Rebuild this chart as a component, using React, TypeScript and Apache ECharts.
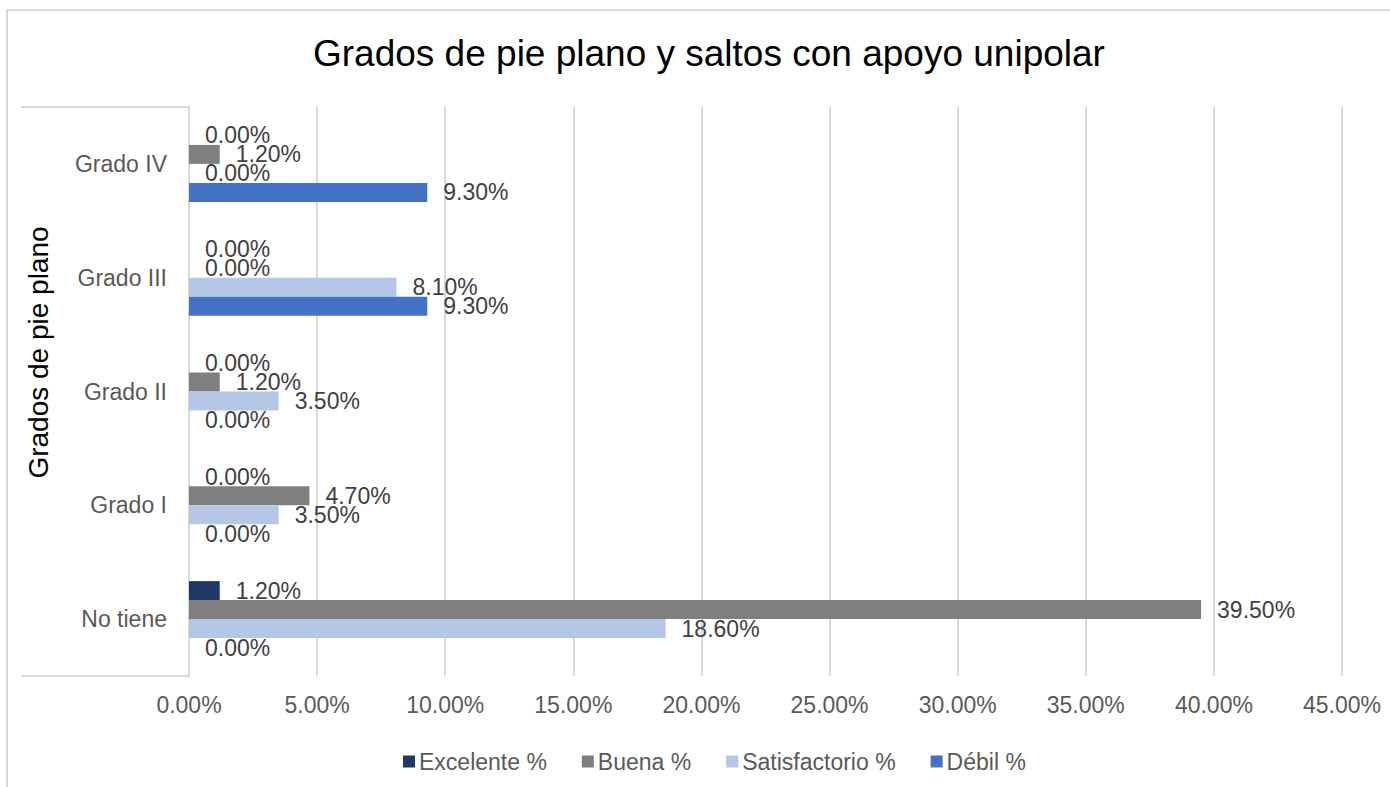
import React, { useEffect, useRef } from "react";
import * as echarts from "echarts";

const categories = ["No tiene", "Grado I", "Grado II", "Grado III", "Grado IV"];
const seriesNames = ["Excelente %", "Buena %", "Satisfactorio %", "Débil %"];
const excelente = [1.2, 0, 0, 0, 0];
const buena = [39.5, 4.7, 1.2, 0, 1.2];
const satisfactorio = [18.6, 3.5, 3.5, 8.1, 0];
const debil = [0, 0, 0, 9.3, 9.3];
const colors = ["#203864", "#7f7f7f", "#b4c7e7", "#4472c4"];
const xTicks = { min: 0, max: 45, interval: 5 };

const FONT = "'Liberation Sans', Arial, sans-serif";

export default function App() {
  const ref = useRef<HTMLDivElement>(null);
  useEffect(() => {
    if (!ref.current) return;
    const chart = echarts.init(ref.current, undefined, { renderer: "svg" });
    const values = [excelente, buena, satisfactorio, debil];
    const series = values.map((data, i) => ({
      name: seriesNames[i],
      type: "bar",
      data,
      barWidth: 19,
      barGap: "0%",
      itemStyle: { color: colors[i] },
      label: {
        show: true,
        position: "right",
        distance: 16,
        fontSize: 23,
        fontFamily: FONT,
        color: "#404040",
        formatter: (p: any) => Number(p.value).toFixed(2) + "%",
      },
    }));
    chart.setOption({
      animation: false,
      backgroundColor: "#ffffff",
      textStyle: { fontFamily: FONT },
      title: {
        text: "Grados de pie plano y saltos con apoyo unipolar",
        left: 308,
        top: 30,
        textStyle: { fontSize: 37, fontWeight: "normal", color: "#000000", fontFamily: FONT },
      },
      legend: {
        data: seriesNames,
        left: 398,
        top: 745,
        itemWidth: 12,
        itemHeight: 12,
        itemGap: 35,
        icon: "rect",
        textStyle: { fontSize: 23, color: "#595959", fontFamily: FONT, padding: [0, 0, 0, -1] },
      },
      grid: { left: 189, right: 48, top: 107, bottom: 111, containLabel: false },
      xAxis: {
        type: "value",
        min: xTicks.min,
        max: xTicks.max,
        interval: xTicks.interval,
        axisLine: { show: false },
        axisTick: { show: false },
        axisLabel: {
          fontSize: 23,
          color: "#595959",
          fontFamily: FONT,
          margin: 17,
          formatter: (v: number) => v.toFixed(2) + "%",
        },
        splitLine: { show: true, lineStyle: { color: "#d9d9d9", width: 2 } },
      },
      yAxis: {
        type: "category",
        data: categories,
        name: "Grados de pie plano",
        nameLocation: "middle",
        nameGap: 137,
        nameTextStyle: { fontSize: 28, color: "#000000", fontFamily: FONT, padding: [0, 0, 0, 78] },
        axisLine: { show: true, lineStyle: { color: "#d9d9d9", width: 2 } },
        axisTick: { show: false },
        axisLabel: { fontSize: 23, color: "#595959", fontFamily: FONT, margin: 22 },
      },
      graphic: [
        {
          type: "rect",
          shape: { x: 7, y: 10, width: 1420, height: 820 },
          style: { fill: "none", stroke: "#d9d9d9", lineWidth: 2 },
          silent: true,
        },
        {
          type: "line",
          shape: { x1: 21, y1: 107, x2: 189, y2: 107 },
          style: { stroke: "#d9d9d9", lineWidth: 2 },
          silent: true,
        },
        {
          type: "line",
          shape: { x1: 21, y1: 676, x2: 189, y2: 676 },
          style: { stroke: "#d9d9d9", lineWidth: 2 },
          silent: true,
        },
      ],
      series,
    });
    return () => chart.dispose();
  }, []);
  return (
    <div
      ref={ref}
      style={{ position: "fixed", left: 0, top: 0, width: 1390, height: 787, background: "#fff" }}
    />
  );
}
